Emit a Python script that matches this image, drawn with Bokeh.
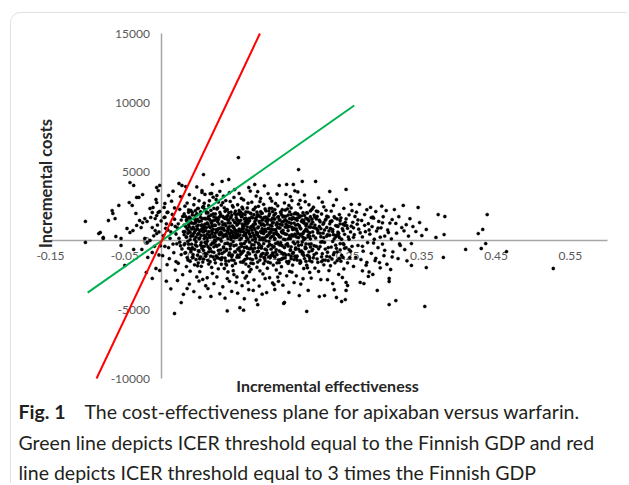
import math
from bokeh.plotting import figure
from bokeh.models import (Range1d, LinearAxis, FixedTicker, NumeralTickFormatter,
                          Label, BoxAnnotation, ColumnDataSource)
from bokeh.embed import file_html
from bokeh.resources import INLINE

# ---------------- data ----------------
x_ticks = [-0.15, -0.05, 0.05, 0.15, 0.25, 0.35, 0.45, 0.55]
y_ticks = [-10000, -5000, 0, 5000, 10000, 15000]
x_bounds = (-0.15, 0.6)
y_bounds = (-10000, 15000)

# threshold lines (ICER = GDP and 3 x GDP)
green_eff = [-0.100, 0.259]
green_cost = [-3780, 9780]
red_eff = [-0.088, 0.132]
red_cost = [-10000, 15000]

pts_left = [(-0.103, 1380), (-0.103, -140), (-0.085, 500), (-0.079, 150), (-0.067, 2170), (-0.066, 1960),
            (-0.072, 1450), (-0.063, 1590), (-0.058, 2540), (-0.062, 290), (-0.055, 150), (-0.055, -360),
            (-0.047, 870), (-0.043, 580), (-0.044, 2750), (-0.043, 4200), (-0.038, 3990), (-0.040, 2540),
            (-0.035, 1960), (-0.034, 3120), (-0.031, 3120), (-0.026, 3330), (-0.030, 1450), (-0.026, 1300),
            (-0.023, 1590), (-0.020, 1380), (-0.034, 1090), (-0.028, 940), (-0.039, 720), (-0.016, 2320),
            (-0.013, 2030), (-0.012, 2390), (-0.015, 1670), (-0.009, 1590), (-0.007, 1810), (-0.007, 3840),
            (-0.005, 3620), (-0.003, 3990), (-0.008, 2970), (-0.007, 2750), (-0.005, 2030), (-0.003, 2100),
            (-0.013, 940), (-0.009, 720), (-0.007, 500), (-0.023, 150), (-0.020, -140), (-0.016, 0),
            (-0.038, -650), (-0.027, -650), (-0.019, -1230), (-0.013, -870), (-0.050, -1810), (-0.021, -2320),
            (-0.013, -2750), (-0.008, -2030), (-0.003, -2170), (-0.004, 620), (-0.002, -380), (-0.006, 1120),
            (-0.011, 340), (-0.001, 1420), (-0.010, -420), (-0.004, -1050), (-0.083, 580), (-0.079, 220)]

pts_a = [(0.002, 350), (0.004, -420), (0.006, 1210), (0.008, 2050), (0.010, -1320), (0.012, 620), (0.013, 2850),
         (0.015, -260), (0.017, 1540), (0.018, -2140), (0.003, 2400), (0.005, 880), (0.007, -1750), (0.009, 3260),
         (0.011, 160), (0.014, 1890), (0.016, -880), (0.019, 470), (0.001, -1100), (0.006, -2950), (0.012, -3500),
         (0.015, 3570), (0.018, 1020), (0.019, -1530), (0.004, 1690), (0.009, -520), (0.013, 1160), (0.017, 2360),
         (0.020, -240), (0.008, 760), (0.017, -5290), (0.004, 2680), (0.007, 2030), (0.003, 1670),
         (0.021, 910), (0.022, -1650), (0.023, 4130), (0.024, 2260), (0.025, -380), (0.026, 1480), (0.027, 3990),
         (0.028, -2480), (0.029, 640), (0.030, 1920), (0.031, -910), (0.032, 3910), (0.033, 270), (0.034, 2710),
         (0.035, -1420), (0.036, 1150), (0.037, -3160), (0.038, 590), (0.039, 2180), (0.040, -640), (0.021, -2900),
         (0.022, 1210), (0.024, -120), (0.025, 3180), (0.026, -1020), (0.028, 1740), (0.029, -3900), (0.030, 420),
         (0.031, 2490), (0.033, -1890), (0.034, 870), (0.035, 1610), (0.036, -270), (0.037, 3320), (0.038, -2220),
         (0.039, 1320), (0.023, 160), (0.027, -610), (0.032, 1020), (0.036, 2040), (0.040, 380), (0.026, -4500),
         (0.034, -3480), (0.039, -820), (0.031, -220)]

pts_b = [(0.041, 1850), (0.042, -1240), (0.043, 520), (0.044, 3050), (0.045, -310), (0.046, 1390), (0.047, -2640),
         (0.048, 840), (0.049, 2330), (0.050, -760), (0.051, 180), (0.052, 1680), (0.053, -1870), (0.054, 3620),
         (0.055, 660), (0.056, 4780), (0.057, -420), (0.058, 1180), (0.059, -3280), (0.060, 2070), (0.041, -520),
         (0.042, 960), (0.043, 2590), (0.044, -1760), (0.045, 1260), (0.046, 240), (0.047, 1940), (0.048, -1060),
         (0.049, 480), (0.050, 2880), (0.051, -2260), (0.052, 740), (0.053, 1420), (0.054, -560), (0.055, 2410),
         (0.056, -1350), (0.057, 1010), (0.058, -140), (0.059, 1560), (0.060, -980), (0.043, -3700), (0.047, 3880),
         (0.051, -4120), (0.055, -2820), (0.058, 3340), (0.044, 80), (0.048, 1530), (0.052, -330), (0.056, 620),
         (0.059, 280), (0.045, 2160), (0.049, -1620), (0.053, 1090), (0.057, 2700), (0.050, -2940),
         (0.061, 1270), (0.062, -450), (0.063, 2520), (0.064, 380), (0.065, -1540), (0.066, 1830), (0.067, 710),
         (0.068, -2380), (0.069, 3140), (0.070, -190), (0.071, 1460), (0.072, 540), (0.073, -1110), (0.074, 2280),
         (0.075, 120), (0.076, -2050), (0.077, 1690), (0.078, 3560), (0.079, -680), (0.080, 920), (0.061, -2700),
         (0.062, 2010), (0.063, -820), (0.064, 1540), (0.065, 3390), (0.066, -300), (0.067, -1950), (0.068, 1050),
         (0.069, 260), (0.070, 2330), (0.071, -1380), (0.072, 1920), (0.073, 780), (0.074, -420), (0.075, 1350),
         (0.076, 2790), (0.077, -960), (0.078, 410), (0.079, 1780), (0.080, -1720), (0.062, -3480), (0.066, -4050),
         (0.070, -3120), (0.074, -2640), (0.078, -3860), (0.064, 2880), (0.068, 4070), (0.072, -60), (0.076, 860),
         (0.080, 2560), (0.063, 640), (0.067, 1240), (0.071, 20), (0.075, -1260), (0.079, 600), (0.065, -610),
         (0.069, -1190), (0.073, 2970), (0.077, 480), (0.061, 150), (0.054, 3480), (0.067, 3410), (0.074, 3260)]

pts_c = [(0.081, 4280), (0.082, 1130), (0.083, -540), (0.084, 2370), (0.085, 330), (0.086, -1470), (0.087, 1720),
         (0.088, 690), (0.089, -2280), (0.090, 4420), (0.091, 1010), (0.092, -380), (0.093, 2060), (0.094, 240),
         (0.095, -1830), (0.096, 1480), (0.097, 3120), (0.098, -820), (0.099, 560), (0.100, 1850), (0.081, -1240),
         (0.082, 2750), (0.083, 870), (0.084, -2030), (0.085, 1590), (0.086, 460), (0.087, -640), (0.088, 2240),
         (0.089, 1280), (0.090, -1050), (0.091, -2960), (0.092, 1640), (0.093, 720), (0.094, -1410), (0.095, 2520),
         (0.096, -80), (0.097, 930), (0.098, 1960), (0.099, -1660), (0.100, 380), (0.082, -3350), (0.085, -4180),
         (0.088, -2760), (0.091, 3470), (0.094, -3690), (0.097, -2470), (0.100, -3040), (0.083, 3210), (0.086, 2890),
         (0.089, 140), (0.092, 2830), (0.095, 620), (0.098, 3690), (0.084, 1190), (0.087, -1780), (0.090, 830),
         (0.093, -260), (0.096, -2190), (0.099, 1310), (0.081, 470), (0.085, -230), (0.089, 1820), (0.093, -1080),
         (0.097, 240), (0.088, -5100),
         (0.101, 1120), (0.102, -640), (0.103, 6010), (0.104, 2180), (0.105, 410), (0.106, -1560), (0.107, 1730),
         (0.108, 860), (0.109, -2310), (0.110, 2940), (0.111, -210), (0.112, 1340), (0.113, 520), (0.114, -1090),
         (0.115, 2360), (0.116, 90), (0.117, -1870), (0.118, 1610), (0.119, 3580), (0.120, -520), (0.101, -2640),
         (0.102, 2590), (0.103, 310), (0.104, -1210), (0.105, 1880), (0.106, 690), (0.107, -420), (0.108, 2410),
         (0.109, 1040), (0.110, -1480), (0.111, 1560), (0.112, -2720), (0.113, 2080), (0.114, 770), (0.115, -560),
         (0.116, 1290), (0.117, 3840), (0.118, -970), (0.119, 280), (0.120, 1950), (0.102, -3820), (0.105, -4870),
         (0.108, -3270), (0.111, -4220), (0.114, -2580), (0.117, -3560), (0.120, -2090), (0.104, 3410), (0.107, 3050),
         (0.110, 640), (0.113, -1710), (0.116, 2700), (0.119, -1330), (0.101, 220), (0.106, -240), (0.109, 1930),
         (0.112, 1160), (0.115, 980), (0.118, 470), (0.103, 1440), (0.108, -880), (0.113, -60), (0.118, -2260),
         (0.110, -5050), (0.116, -3050)]

pts_d = [(0.121, 760), (0.122, -1380), (0.123, 2240), (0.124, 380), (0.125, -560), (0.126, 1610), (0.127, 3220),
         (0.128, -1940), (0.129, 910), (0.130, 2480), (0.131, -290), (0.132, 1270), (0.133, -1150), (0.134, 560),
         (0.135, 1980), (0.136, -2420), (0.137, 740), (0.138, 3960), (0.139, -630), (0.140, 1420), (0.121, 2780),
         (0.122, 1040), (0.123, -810), (0.124, -2850), (0.125, 1360), (0.126, -100), (0.127, 610), (0.128, 2060),
         (0.129, -1560), (0.130, 300), (0.131, 1780), (0.132, -2200), (0.133, 3050), (0.134, -420), (0.135, 860),
         (0.136, 1560), (0.137, -1680), (0.138, 180), (0.139, 2290), (0.140, -1020), (0.123, -3620), (0.127, -4310),
         (0.131, -3300), (0.135, -3890), (0.139, -2760), (0.125, 4060), (0.129, 3540), (0.133, 1700), (0.137, 2620),
         (0.122, 40), (0.126, 2410), (0.130, -780), (0.134, 1120), (0.138, -1260), (0.124, 1870), (0.128, 480),
         (0.132, 2820), (0.136, 40), (0.140, 660), (0.129, -4650),
         (0.141, -3770), (0.142, 1180), (0.143, -420), (0.144, 2140), (0.145, 560), (0.146, -1620), (0.147, 1470),
         (0.148, 2860), (0.149, -890), (0.150, 340), (0.151, 1830), (0.152, -3550), (0.153, 780), (0.154, -2130),
         (0.155, 1290), (0.156, 2510), (0.157, -260), (0.158, 3990), (0.159, 920), (0.160, -1370), (0.141, 1620),
         (0.142, -2010), (0.143, 870), (0.144, -1190), (0.145, 2330), (0.146, 180), (0.147, -630), (0.148, 1040),
         (0.149, 2090), (0.150, -1780), (0.151, -460), (0.152, 1550), (0.153, 2680), (0.154, 490), (0.155, -1030),
         (0.156, -2650), (0.157, 1720), (0.158, 260), (0.159, -2380), (0.160, 2060), (0.143, 3400), (0.146, 3060),
         (0.149, -3080), (0.152, 80), (0.155, 3370), (0.158, -1600), (0.144, -60), (0.147, 620), (0.150, 1300),
         (0.153, -840), (0.156, 940), (0.159, 1480), (0.145, -2700), (0.151, -3200), (0.157, -2960)]

pts_e = [(0.161, 640), (0.162, 2230), (0.163, -980), (0.164, -4560), (0.165, -4490), (0.166, 1520), (0.167, -310),
         (0.168, 4060), (0.169, 1080), (0.170, -1660), (0.171, 2540), (0.172, 360), (0.173, -720), (0.174, 1870),
         (0.175, -2290), (0.176, 790), (0.177, 4060), (0.178, 1260), (0.179, -1140), (0.180, 2000), (0.161, -1900),
         (0.162, -380), (0.163, 1710), (0.164, 540), (0.165, 2720), (0.166, -1260), (0.167, 1190), (0.168, -2560),
         (0.169, 2290), (0.170, 120), (0.171, -1020), (0.172, 1580), (0.173, 3180), (0.174, -460), (0.175, 960),
         (0.176, -1780), (0.177, 1640), (0.178, -3050), (0.179, 460), (0.180, -640), (0.163, -3240), (0.167, 3340),
         (0.171, -3760), (0.175, 2890), (0.179, 3600), (0.166, 60), (0.172, -2240), (0.178, 820), (0.162, 1120),
         (0.174, -1320),
         (0.181, 840), (0.182, -1420), (0.183, 1920), (0.184, 5140), (0.185, -3990), (0.186, 450), (0.187, 2370),
         (0.188, -760), (0.189, 4280), (0.190, 1320), (0.191, -2030), (0.192, 680), (0.193, 2810), (0.194, -240),
         (0.195, -5140), (0.196, 1560), (0.197, -3620), (0.198, 990), (0.199, -1260), (0.200, 2140), (0.181, -2560),
         (0.182, 1620), (0.183, -120), (0.184, 2630), (0.185, 1070), (0.186, -1650), (0.187, 380), (0.188, 1790),
         (0.189, -970), (0.190, -2770), (0.191, 1440), (0.192, 3290), (0.193, -580), (0.194, 820), (0.195, 2020),
         (0.196, -1980), (0.197, 260), (0.198, 2590), (0.199, 570), (0.200, -470), (0.183, 3520), (0.187, -3160),
         (0.191, 60), (0.195, 1210), (0.199, -2310), (0.186, 2910), (0.190, 500), (0.194, -1510), (0.198, -820),
         (0.182, 240)]

pts_f = [(0.201, 1180), (0.202, -1540), (0.203, 620), (0.204, 2410), (0.205, -380), (0.206, 1690), (0.207, 4280),
         (0.208, -920), (0.209, 840), (0.210, 2090), (0.211, -2240), (0.212, -4060), (0.213, 1360), (0.214, 270),
         (0.215, -1180), (0.216, 2780), (0.217, 530), (0.218, -1760), (0.219, -3990), (0.220, 1480), (0.201, -2720),
         (0.202, 2260), (0.203, -640), (0.204, 940), (0.205, 1840), (0.206, -2000), (0.207, 180), (0.208, 1560),
         (0.209, -1330), (0.210, 560), (0.211, 3090), (0.212, 1020), (0.213, -440), (0.214, -2830), (0.215, 1920),
         (0.216, -90), (0.217, -1420), (0.218, 2440), (0.219, 760), (0.220, -620),
         (0.221, 2190), (0.222, -1150), (0.223, 420), (0.224, 1710), (0.225, -2180), (0.226, 3550), (0.227, 870),
         (0.228, -480), (0.229, 1420), (0.230, -3120), (0.231, 2540), (0.232, 120), (0.233, -1620), (0.234, 1080),
         (0.235, 2960), (0.236, -820), (0.237, 610), (0.238, -2460), (0.239, 1880), (0.240, -230), (0.222, 310),
         (0.224, -1460), (0.226, 1210), (0.228, 2130), (0.230, 790), (0.232, -3570), (0.234, -340), (0.236, 1560),
         (0.238, 330), (0.240, 1210), (0.223, -2840), (0.227, -1830), (0.231, -1030), (0.235, 380), (0.239, -1290),
         (0.241, 1640), (0.242, -4420), (0.243, -2680), (0.244, 710), (0.245, 2330), (0.246, -560), (0.247, -4280),
         (0.248, 3700), (0.249, 1080), (0.250, -3260), (0.251, 260), (0.252, 1860), (0.253, -1240), (0.254, 620),
         (0.255, 2620), (0.256, -420), (0.257, 1320), (0.258, -1880), (0.259, 420), (0.260, 1740), (0.248, -3040),
         (0.248, -3620), (0.242, -1080), (0.246, 1100), (0.250, -1620), (0.254, -780), (0.258, 920), (0.244, -220),
         (0.252, 90), (0.256, 2160), (0.245, -2060), (0.235, -4130)]

pts_g = [(0.262, 2050), (0.264, -360), (0.265, 820), (0.266, 2620), (0.267, -3040), (0.268, -1380), (0.269, 1450),
         (0.270, 260), (0.271, -770), (0.272, -3120), (0.273, 1880), (0.274, 640), (0.275, -1790), (0.276, 2230),
         (0.277, -150), (0.278, 1220), (0.279, -2280), (0.280, 460), (0.281, 2400), (0.282, -930), (0.283, 1010),
         (0.284, -2460), (0.285, 1620), (0.286, 90), (0.287, -1460), (0.288, 2100), (0.289, 680), (0.290, -3620),
         (0.291, -520), (0.292, 1380), (0.294, -1980), (0.295, 920), (0.296, 2490), (0.297, -260), (0.298, 1720),
         (0.299, -1100), (0.300, 320), (0.263, 1180), (0.270, -2200), (0.278, -2600), (0.284, 1700), (0.293, -1600),
         (0.302, 2170), (0.303, -1720), (0.304, 760), (0.306, -2750), (0.306, -2970), (0.306, -4640), (0.307, 1260),
         (0.308, -2100), (0.309, 120), (0.310, 1520), (0.311, -820), (0.313, 2240), (0.315, -4350), (0.316, 530),
         (0.318, -1310), (0.319, 1730), (0.321, -360), (0.323, 940), (0.325, 2540), (0.327, -660), (0.329, 1150),
         (0.330, -1470), (0.332, 320), (0.334, 1580), (0.336, -220), (0.336, -1810), (0.338, 1010),
         (0.252, -660), (0.255, 1040), (0.258, 230), (0.261, -1230), (0.264, 1490), (0.267, 560), (0.270, -420),
         (0.273, 1100), (0.276, -1590), (0.279, 760), (0.282, 1660), (0.285, -180), (0.288, -1290), (0.291, 890),
         (0.294, 240), (0.297, 1280), (0.300, -710), (0.305, 580), (0.310, -1190), (0.315, 1240), (0.320, -250),
         (0.326, 700)]

pts_right = [(0.342, 650), (0.345, 2390), (0.347, 1300), (0.350, 360), (0.354, -4780), (0.356, 800), (0.356, -1960),
             (0.369, 220), (0.372, 1880), (0.379, -1230), (0.380, 430), (0.381, 1740), (0.409, -650), (0.426, 500),
             (0.430, -580), (0.432, 800), (0.436, -220), (0.438, 1880), (0.464, -800), (0.527, -2030)]

# dense central band of the cloud
pts_core = [(0.030, 1120), (0.030, -310), (0.031, 650), (0.032, -880), (0.032, 1730), (0.033, 240), (0.034, 1390),
            (0.034, -1240), (0.035, 520), (0.036, -560), (0.036, 2210), (0.037, 980), (0.038, 70), (0.038, -1510),
            (0.039, 1560), (0.040, -270), (0.040, 830), (0.041, 2040), (0.042, 330), (0.042, -1020), (0.043, 1240),
            (0.044, -640), (0.044, 610), (0.045, 1800), (0.046, -90), (0.046, -1380), (0.047, 1030), (0.048, 430),
            (0.048, 2310), (0.049, -760), (0.050, 1380), (0.050, 120), (0.051, 690), (0.052, -1190), (0.052, 1920),
            (0.053, 370), (0.054, 1130), (0.054, -420), (0.055, -1560), (0.056, 860), (0.056, 2480), (0.057, 140),
            (0.058, -930), (0.058, 1610), (0.059, 720), (0.060, 1990), (0.060, -260), (0.061, 470), (0.062, -1440),
            (0.062, 1180), (0.063, 1750), (0.064, -580), (0.064, 290), (0.065, 940), (0.066, 2190), (0.066, -1130),
            (0.067, 480), (0.068, -180), (0.068, 1420), (0.069, 820), (0.070, -860), (0.070, 1710), (0.071, 350),
            (0.072, 1090), (0.072, -1620), (0.073, -340), (0.074, 1560), (0.074, 640), (0.075, 2360), (0.076, -720),
            (0.076, 150), (0.077, 1190), (0.078, -1310), (0.078, 880), (0.079, 1900), (0.080, -40), (0.080, 560),
            (0.081, 1350), (0.081, -940), (0.082, 250), (0.083, 1670), (0.083, -470), (0.084, 740), (0.085, -1270),
            (0.085, 2120), (0.086, 1080), (0.087, 330), (0.087, -710), (0.088, 1540), (0.089, -220), (0.089, 910),
            (0.090, 2020), (0.090, -1490), (0.091, 480), (0.092, 1260), (0.092, -600), (0.093, 80), (0.094, 1830),
            (0.094, 560), (0.095, -1050), (0.096, 970), (0.096, 2420), (0.097, -380), (0.098, 1310), (0.098, 190),
            (0.099, -830), (0.100, 1660), (0.100, 720), (0.101, -1220), (0.102, 440), (0.102, 1180), (0.103, 1950),
            (0.104, -540), (0.104, 830), (0.105, 60), (0.106, 1460), (0.106, -1000), (0.107, 640), (0.108, -260),
            (0.108, 1740), (0.109, 2290), (0.110, 370), (0.110, -760), (0.111, 1090), (0.112, -1370), (0.112, 530),
            (0.113, 1620), (0.114, 200), (0.114, -470), (0.115, 1240), (0.116, -880), (0.116, 2060), (0.117, 690),
            (0.118, -120), (0.118, 1430), (0.119, 910), (0.120, -1640), (0.120, 300), (0.121, 1710), (0.122, 560),
            (0.122, -620), (0.123, 1150), (0.124, -310), (0.124, 2240), (0.125, 790), (0.126, -1070), (0.126, 120),
            (0.127, 1500), (0.128, 430), (0.128, -830), (0.129, 1880), (0.130, -190), (0.130, 980), (0.131, 270),
            (0.132, 1340), (0.132, -1420), (0.133, 660), (0.134, -560), (0.134, 1970), (0.135, 180), (0.136, 1210),
            (0.136, -940), (0.137, 500), (0.138, -1230), (0.138, 1680), (0.139, 820), (0.140, -20), (0.140, 2150),
            (0.141, -690), (0.142, 1380), (0.142, 350), (0.143, -1560), (0.144, 870), (0.144, 1790), (0.145, -270),
            (0.146, 1100), (0.146, 600), (0.147, -1080), (0.148, 290), (0.148, 2330), (0.149, 1260), (0.150, -470),
            (0.150, 780), (0.151, 1570), (0.152, -1210), (0.152, 160), (0.153, 1960), (0.154, 620), (0.154, -660),
            (0.155, 1180), (0.156, -140), (0.156, 440), (0.157, -1400), (0.158, 1490), (0.158, 900), (0.159, -330),
            (0.160, 2050), (0.160, 250), (0.161, -860), (0.162, 1330), (0.162, 560), (0.163, -1280), (0.164, 1760),
            (0.164, 90), (0.165, -510), (0.166, 970), (0.166, 2200), (0.167, -1050), (0.168, 450), (0.168, 1410),
            (0.169, -230), (0.170, 1840), (0.170, 720), (0.171, -1520), (0.172, 1020), (0.172, 190), (0.173, -670),
            (0.174, 1250), (0.174, 2360), (0.175, 420), (0.176, -940), (0.176, 1640), (0.177, -120), (0.178, 870),
            (0.178, -1380), (0.179, 1570), (0.180, 300), (0.180, -540), (0.181, 1930), (0.182, -1140), (0.182, 680),
            (0.183, 1160), (0.184, -360), (0.184, 210), (0.185, 1790), (0.186, -790), (0.186, 920), (0.187, -1560),
            (0.188, 1380), (0.188, 440), (0.189, -100), (0.190, 2010), (0.190, -880), (0.191, 610), (0.192, -1310),
            (0.192, 1240), (0.193, 160), (0.194, 1620), (0.194, -560), (0.195, 780), (0.196, -1080), (0.196, 1990),
            (0.197, 380), (0.198, -260), (0.198, 1410), (0.199, -1460), (0.200, 960), (0.200, 120), (0.202, 1540),
            (0.202, -740), (0.204, 340), (0.204, -1250), (0.206, 1120), (0.208, -430), (0.208, 2130), (0.210, 710),
            (0.210, -1580), (0.212, 1470), (0.214, -120), (0.214, 860), (0.216, -960), (0.218, 1290), (0.218, 210),
            (0.220, -1420), (0.222, 950), (0.222, 1760), (0.224, -510), (0.226, 380), (0.226, -1190), (0.228, 1380),
            (0.230, -70), (0.230, 640), (0.232, 1720), (0.232, -880), (0.234, 260), (0.236, -1460), (0.236, 1050),
            (0.238, 520), (0.240, -680), (0.240, 1450), (0.242, 90), (0.244, 1180), (0.244, -1230), (0.246, 450),
            (0.248, -520), (0.248, 1560), (0.250, 880)]

pts_core2 = [(0.045, 1510), (0.046, 760), (0.047, -410), (0.048, -1830), (0.049, 1120), (0.050, 510), (0.051, -1330),
             (0.052, 2090), (0.053, -150), (0.054, 860), (0.055, 1590), (0.056, -720), (0.057, 370), (0.058, 2250),
             (0.059, -1140), (0.060, 940), (0.061, -60), (0.062, 1580), (0.063, -1710), (0.064, 1010), (0.065, 220),
             (0.066, 1370), (0.067, -810), (0.068, 590), (0.069, 1930), (0.070, -460), (0.071, 1110), (0.072, 260),
             (0.073, 1640), (0.074, -1190), (0.075, 760), (0.076, 1520), (0.077, -310), (0.078, 2040), (0.079, 90),
             (0.080, -1390), (0.081, 840), (0.082, 1750), (0.083, 370), (0.084, -820), (0.085, 1210), (0.086, -1690),
             (0.087, 2210), (0.088, -200), (0.089, 590), (0.090, 1470), (0.091, -890), (0.092, 300), (0.093, 1660),
             (0.094, -1160), (0.095, 1050), (0.096, 410), (0.097, -1440), (0.098, 780), (0.099, 2120), (0.100, -330),
             (0.101, 1530), (0.102, -1060), (0.103, 660), (0.104, 1290), (0.105, -760), (0.106, 2050), (0.107, 170),
             (0.108, 1190), (0.109, -1580), (0.110, 880), (0.111, -500), (0.112, 1880), (0.113, 350), (0.114, 1450),
             (0.115, -1290), (0.116, 620), (0.117, 1570), (0.118, -610), (0.119, 1990), (0.120, 1000), (0.121, -300),
             (0.122, 1640), (0.123, -1670), (0.124, 920), (0.125, 230), (0.126, 1190), (0.127, -1260), (0.128, 1730),
             (0.129, 540), (0.130, -520), (0.131, 1380), (0.132, 60), (0.133, 2090), (0.134, -1010), (0.135, 1470),
             (0.136, 610), (0.137, -230), (0.138, 1090), (0.139, -1480), (0.140, 1690), (0.141, 290), (0.142, -910),
             (0.143, 1540), (0.144, 450), (0.145, 1930), (0.146, -1230), (0.147, 810), (0.148, -350), (0.149, 1620),
             (0.150, -1080), (0.151, 520), (0.152, 2240), (0.153, -220), (0.154, 1130), (0.155, -1620), (0.156, 1690),
             (0.157, 370), (0.158, -760), (0.159, 1170), (0.160, -160), (0.161, 1880), (0.162, -1330), (0.163, 740),
             (0.164, 1390), (0.165, -950), (0.166, 470), (0.167, 1750), (0.168, -1540), (0.169, 950), (0.170, -400),
             (0.171, 1320), (0.172, 2070), (0.173, 130), (0.174, -1160), (0.175, 1540), (0.176, 310), (0.177, -870),
             (0.178, 1930), (0.179, -240), (0.180, 1120), (0.181, -1230), (0.182, 1460), (0.183, 510), (0.184, -620),
             (0.185, 1680), (0.186, -1460), (0.187, 850), (0.188, -310), (0.189, 1490), (0.190, 230), (0.191, -1080),
             (0.192, 1820), (0.193, -460), (0.194, 1070), (0.195, -1790), (0.196, 670), (0.197, 1530), (0.198, -1130),
             (0.199, 310), (0.200, 1720), (0.201, -250), (0.203, 1330), (0.205, -1020), (0.207, 890), (0.209, 1740),
             (0.211, -600), (0.213, 520), (0.215, -1530), (0.217, 1180), (0.219, -140), (0.221, 1550), (0.223, -850),
             (0.225, 690), (0.227, 1390), (0.229, -1340), (0.231, 420), (0.233, 1640), (0.235, -570), (0.237, 1020),
             (0.239, 210), (0.241, -1500), (0.243, 860), (0.245, -290), (0.247, 1320), (0.035, -60), (0.037, 1700),
             (0.039, 300), (0.041, -1210), (0.043, 840), (0.044, 1570), (0.040, 1260), (0.038, -620), (0.036, 720),
             (0.033, 1480)]

all_pts = pts_left + pts_a + pts_b + pts_c + pts_d + pts_e + pts_f + pts_g + pts_right + pts_core + pts_core2
eff = [p_[0] for p_ in all_pts]
cost = [p_[1] for p_ in all_pts]

# ---------------- layout (pixels on the canvas) ----------------
W, H = 627, 483
FL, FR, FT, FB = 50, 607, 33, 378     # where x_bounds / y_bounds sit on the canvas
kx = (x_bounds[1] - x_bounds[0]) / (FR - FL)
ky = (y_bounds[1] - y_bounds[0]) / (FB - FT)
x_range = Range1d(x_bounds[0] - FL * kx, x_bounds[1] + (W - FR) * kx)
y_range = Range1d(y_bounds[0] - (H - FB) * ky, y_bounds[1] + FT * ky)

p = figure(width=W, height=H, output_backend="svg", toolbar_location=None, title=None,
           x_range=x_range, y_range=y_range, x_axis_location=None, y_axis_location=None,
           min_border=0, min_border_left=0, min_border_right=0, min_border_top=0, min_border_bottom=0)
p.outline_line_color = None
p.xgrid.grid_line_color = None
p.ygrid.grid_line_color = None
p.background_fill_color = "white"
p.border_fill_color = "white"

TICK_FONT = "Lato"
xaxis = LinearAxis(fixed_location=0, ticker=FixedTicker(ticks=x_ticks), bounds=x_bounds,
                   formatter=NumeralTickFormatter(format="0.00"))
yaxis = LinearAxis(fixed_location=0, ticker=FixedTicker(ticks=y_ticks), bounds=y_bounds,
                   formatter=NumeralTickFormatter(format="0"))
for ax, standoff in ((xaxis, 11), (yaxis, 12)):
    ax.level = "underlay"
    ax.axis_line_color = "#a6a6a6"
    ax.axis_line_width = 1.5
    ax.major_tick_line_color = None
    ax.minor_tick_line_color = None
    ax.major_tick_in = 0
    ax.major_tick_out = 0
    ax.major_label_text_font = TICK_FONT
    ax.major_label_text_font_size = "12px"
    ax.major_label_text_color = "#595959"
    ax.major_label_standoff = standoff
p.add_layout(xaxis, "below")
p.add_layout(yaxis, "left")

src = ColumnDataSource(dict(eff=eff, cost=cost))
p.scatter("eff", "cost", source=src, size=3.3, marker="circle",
          fill_color="black", line_color="black", line_width=0.3)

p.line(green_eff, green_cost, line_color="#00b050", line_width=2)
p.line(red_eff, red_cost, line_color="#ff0000", line_width=2)

# axis titles (screen units: from the bottom-left of the canvas)
p.add_layout(Label(x=327, y=H - 385, x_units="screen", y_units="screen", text="Incremental effectiveness",
                   text_font="Lato", text_font_style="bold", text_font_size="16px", text_color="#262626",
                   text_align="center", text_baseline="middle"))
p.add_layout(Label(x=45, y=H - 183, x_units="screen", y_units="screen", text="Incremental costs",
                   angle=math.pi / 2, text_font="Lato", text_font_style="bold", text_font_size="16.5px",
                   text_color="#262626", text_align="center", text_baseline="middle"))

# caption
CAP_FONT = "Lato"
CAP_SIZE = "19.5px"
p.add_layout(Label(x=18, y=H - 411, x_units="screen", y_units="screen", text="Fig. 1",
                   text_font=CAP_FONT, text_font_style="bold", text_font_size=CAP_SIZE,
                   text_color="#231f20", text_align="left", text_baseline="middle"))
cap_lines = ["The cost-effectiveness plane for apixaban versus warfarin.",
             "Green line depicts ICER threshold equal to the Finnish GDP and red",
             "line depicts ICER threshold equal to 3 times the Finnish GDP"]
cap_pos = [(84, 411), (18, 442), (18, 472)]
for t, (cx, cy) in zip(cap_lines, cap_pos):
    p.add_layout(Label(x=cx, y=H - cy, x_units="screen", y_units="screen", text=t,
                       text_font=CAP_FONT, text_font_size=CAP_SIZE, text_color="#231f20",
                       text_align="left", text_baseline="middle"))

# rounded frame of the figure panel
p.add_layout(BoxAnnotation(left=10, right=W + 40, top=H - 12, bottom=-40,
                           left_units="screen", right_units="screen", top_units="screen", bottom_units="screen",
                           fill_color=None, fill_alpha=0, line_color="#9a9a9a", line_width=1,
                           border_radius=10, level="overlay"))

open("out.html", "w").write(file_html(p, INLINE))
